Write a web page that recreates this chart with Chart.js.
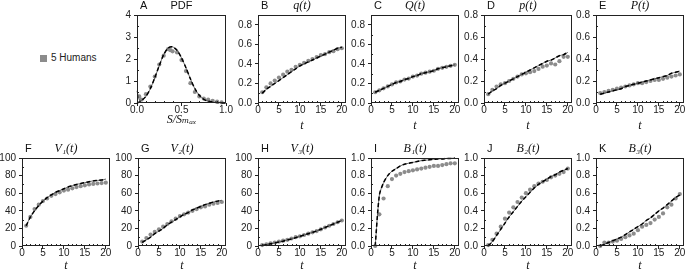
<!DOCTYPE html>
<html>
<head>
<meta charset="utf-8">
<script src="https://cdn.jsdelivr.net/npm/chart.js@4.4.1/dist/chart.umd.min.js"></script>
<style>
  body { margin: 0; width: 685px; height: 274px; overflow: hidden; background: #fff; position: relative; font-family: "Liberation Sans", Arial, sans-serif; }
  canvas { position: absolute; }
  #legend { position: absolute; left: 40px; top: 52px; font-size: 10px; color: #222; white-space: nowrap; }
  #legend .sw { display: inline-block; width: 7px; height: 7px; background: #8c8c8c; margin-right: 4px; vertical-align: -1px; }
</style>
</head>
<body>
<div id="legend"><span class="sw"></span>5 Humans</div>
<script>
// time steps shared by all the t-panels
const tSteps = [1, 2, 3, 4, 5, 6, 7, 8, 9, 10, 11, 12, 13, 14, 15, 16, 17, 18, 19, 20];

// tick labels
const tTicks = [0, 5, 10, 15, 20];
const pdfXTicks = [0, 0.5, 1];
const pdfYTicks = [0, 1, 2, 3, 4];
const fracTicks = [0, 0.2, 0.4, 0.6, 0.8];
const unitTicks = [0, 0.2, 0.4, 0.6, 0.8, 1.0];
const volTicks = [0, 20, 40, 60, 80, 100];

// A: PDF of S/Smax
const pdfHumanX = [0.025, 0.05, 0.1, 0.15, 0.2, 0.25, 0.3, 0.35, 0.375, 0.4, 0.45, 0.5, 0.55, 0.6, 0.65, 0.7, 0.75, 0.8, 0.85, 0.9, 0.95];
const pdfHuman  = [0.3, 0.15, 0.4, 0.75, 1.2, 1.75, 2.15, 2.45, 2.4, 2.35, 2.3, 1.95, 1.45, 0.9, 0.5, 0.3, 0.2, 0.15, 0.1, 0.06, 0.03];
const pdfModelX = [0, 0.03, 0.05, 0.1, 0.15, 0.2, 0.25, 0.3, 0.35, 0.4, 0.45, 0.5, 0.55, 0.6, 0.65, 0.7, 0.75, 0.8, 0.85, 0.9, 0.95, 1.0];
const pdfModel  = [0.55, 0.1, 0.12, 0.3, 0.65, 1.15, 1.7, 2.2, 2.5, 2.55, 2.4, 2.05, 1.6, 1.1, 0.65, 0.35, 0.17, 0.08, 0.04, 0.02, 0.01, 0.0];
const pdfModel2 = [0.0, 0.05, 0.1, 0.3, 0.65, 1.15, 1.7, 2.2, 2.5, 2.55, 2.4, 2.05, 1.6, 1.1, 0.65, 0.35, 0.17, 0.08, 0.04, 0.02, 0.01, 0.0];

// B..K: humans vs model over time
const qHuman  = [0.11, 0.16, 0.20, 0.23, 0.26, 0.29, 0.32, 0.34, 0.37, 0.39, 0.41, 0.43, 0.45, 0.47, 0.49, 0.50, 0.52, 0.53, 0.55, 0.56];
const qModel  = [0.10, 0.14, 0.17, 0.20, 0.23, 0.26, 0.29, 0.32, 0.35, 0.38, 0.40, 0.42, 0.44, 0.46, 0.48, 0.50, 0.52, 0.54, 0.56, 0.57];
const QHuman  = [0.11, 0.13, 0.15, 0.17, 0.19, 0.21, 0.22, 0.24, 0.25, 0.27, 0.28, 0.30, 0.31, 0.32, 0.33, 0.35, 0.36, 0.37, 0.38, 0.39];
const QModel  = [0.11, 0.13, 0.15, 0.17, 0.19, 0.21, 0.22, 0.24, 0.25, 0.27, 0.28, 0.30, 0.31, 0.32, 0.33, 0.35, 0.36, 0.37, 0.38, 0.39];
const pHuman  = [0.08, 0.12, 0.15, 0.17, 0.18, 0.20, 0.22, 0.24, 0.26, 0.27, 0.28, 0.29, 0.31, 0.33, 0.34, 0.36, 0.35, 0.38, 0.42, 0.42];
const pModel  = [0.08, 0.11, 0.13, 0.16, 0.18, 0.20, 0.22, 0.24, 0.26, 0.28, 0.30, 0.32, 0.34, 0.36, 0.38, 0.39, 0.41, 0.43, 0.44, 0.46];
const PHuman  = [0.09, 0.10, 0.11, 0.12, 0.13, 0.14, 0.15, 0.16, 0.17, 0.18, 0.18, 0.19, 0.20, 0.21, 0.21, 0.22, 0.23, 0.24, 0.25, 0.26];
const PModel  = [0.08, 0.09, 0.10, 0.11, 0.12, 0.13, 0.15, 0.16, 0.17, 0.18, 0.19, 0.20, 0.21, 0.22, 0.23, 0.24, 0.25, 0.27, 0.28, 0.29];
const v1Human = [23, 33, 42, 47, 51, 54, 57, 59, 61, 63, 64, 65.5, 67, 68, 69, 70, 70.5, 71, 71.5, 72];
const v1Model = [23, 33, 40, 46, 51, 55, 58, 61, 63, 65, 67, 68.5, 70, 71, 72, 73, 74, 74.5, 75, 76];
const v2Human = [5, 9, 13, 16, 19, 22, 25, 28, 31, 34, 36, 38, 40, 42, 44, 45, 47, 48, 49, 50];
const v2Model = [4, 7, 10, 14, 17, 20, 24, 27, 30, 33, 36, 38, 41, 43, 45, 47, 48.5, 50, 51, 52];
const v3Human = [1, 2, 3, 4, 5, 6, 7, 8.5, 10, 11, 12.5, 14, 15.5, 17, 19, 21, 23, 25, 27, 29];
const v3Model = [0.5, 1.5, 2.5, 3.5, 4.5, 5.5, 7, 8, 9.5, 11, 12.5, 14, 15.5, 17, 19, 21, 23, 25, 27, 29];
const b1Human = [0.0, 0.36, 0.54, 0.68, 0.76, 0.80, 0.82, 0.84, 0.85, 0.86, 0.87, 0.88, 0.89, 0.90, 0.91, 0.91, 0.92, 0.93, 0.94, 0.94];
const b1Model = [0.0, 0.58, 0.72, 0.80, 0.85, 0.88, 0.91, 0.93, 0.94, 0.95, 0.96, 0.97, 0.975, 0.98, 0.985, 0.99, 0.99, 0.995, 0.995, 1.0];
const b2Human = [0.01, 0.07, 0.14, 0.22, 0.31, 0.38, 0.44, 0.50, 0.55, 0.60, 0.64, 0.68, 0.71, 0.73, 0.75, 0.78, 0.80, 0.82, 0.84, 0.88];
const b2Model = [0.0, 0.05, 0.12, 0.19, 0.26, 0.33, 0.39, 0.45, 0.51, 0.56, 0.61, 0.66, 0.70, 0.73, 0.76, 0.79, 0.81, 0.84, 0.86, 0.88];
const b3Human = [0.0, 0.04, 0.04, 0.05, 0.06, 0.08, 0.10, 0.12, 0.14, 0.18, 0.22, 0.24, 0.26, 0.30, 0.33, 0.37, 0.44, 0.47, 0.54, 0.59];
const b3Model = [0.0, 0.02, 0.04, 0.06, 0.08, 0.10, 0.13, 0.16, 0.19, 0.22, 0.25, 0.29, 0.32, 0.36, 0.40, 0.43, 0.47, 0.51, 0.55, 0.58];

const pts = (xs, ys) => xs.map((x, i) => ({ x: x, y: ys[i] }));

// draws the box, inner minor ticks, panel letter and title
const framePlugin = {
  id: 'frame',
  afterDraw(chart, args, o) {
    const { ctx, chartArea: a, scales: { x, y } } = chart;
    ctx.save();
    ctx.strokeStyle = '#222';
    ctx.lineWidth = 1;
    ctx.strokeRect(a.left + 0.5, a.top + 0.5, a.right - a.left - 1, a.bottom - a.top - 1);
    ctx.beginPath();
    const near = (v, list) => list.some(t => Math.abs(t - v) < 1e-9);
    for (let i = 1; i * o.xMinor < x.max - 1e-9; i++) {
      const v = i * o.xMinor;
      if (near(v, o.xTicks)) continue;
      const px = Math.round(x.getPixelForValue(v)) + 0.5;
      ctx.moveTo(px, a.bottom);
      ctx.lineTo(px, a.bottom - 2);
    }
    for (let i = 1; i * o.yMinor < y.max - 1e-9; i++) {
      const v = i * o.yMinor;
      if (near(v, o.yTicks)) continue;
      const py = Math.round(y.getPixelForValue(v)) + 0.5;
      ctx.moveTo(a.left, py);
      ctx.lineTo(a.left + 2, py);
    }
    ctx.stroke();
    ctx.fillStyle = '#111';
    ctx.textBaseline = 'middle';
    ctx.textAlign = 'left';
    ctx.font = '11px "Liberation Sans", Arial, sans-serif';
    ctx.fillText(o.letter, a.left + 3, a.top - 9);
    ctx.textAlign = 'center';
    ctx.font = o.math ? 'italic 12px "Liberation Serif", "DejaVu Serif", serif' : '11px "Liberation Sans", Arial, sans-serif';
    ctx.fillText(o.title, (a.left + a.right) / 2, a.top - 9);
    ctx.restore();
  }
};

const tickFont = { family: '"Liberation Sans", Arial, sans-serif', size: 10, lineHeight: 1 };
const labelFont = { family: '"Liberation Serif", "DejaVu Serif", serif', size: 12, style: 'italic' };

function makePanel(p) {
  const padL = 30, padT = 20, padR = 10, padB = 32;
  const w = p.w || 88, h = 88;
  const cv = document.createElement('canvas');
  cv.width = padL + w + padR;
  cv.height = padT + h + padB;
  cv.style.left = (p.left - padL) + 'px';
  cv.style.top = (p.top - padT) + 'px';
  cv.style.width = cv.width + 'px';
  cv.style.height = cv.height + 'px';
  document.body.appendChild(cv);

  const axis = (ticks, min, max, fmt, pad) => ({
    type: 'linear',
    min: min,
    max: max,
    afterBuildTicks: s => { s.ticks = ticks.map(v => ({ value: v })); },
    ticks: { font: tickFont, color: '#222', padding: pad, autoSkip: false, maxRotation: 0, callback: fmt },
    grid: { drawOnChartArea: false, drawTicks: true, tickLength: 3, color: '#222' },
    border: { display: false }
  });

  const xs = axis(p.xTicks, 0, p.xMax, p.xFmt, -1);
  xs.afterFit = s => { s.height = padB; };
  xs.title = { display: true, text: p.xLabel, font: labelFont, color: '#111', padding: { top: 0, bottom: p.xLabelPad } };
  const ys = axis(p.yTicks, 0, p.yMax, p.yFmt, 3);
  ys.afterFit = s => { s.width = padL; };

  new Chart(cv, {
    type: 'line',
    data: {
      datasets: [
        { data: pts(p.hx, p.hy), showLine: false, pointRadius: 2.1, pointBackgroundColor: '#8c8c8c', pointBorderWidth: 0, order: 2 },
        { data: pts(p.mx, p.my), borderColor: '#444', borderWidth: 0.8, pointRadius: 0, tension: 0.25, order: 1 },
        { data: pts(p.mx, p.my2 || p.my), borderColor: '#000', borderWidth: 1.5, borderDash: [4, 2.5], pointRadius: 0, tension: 0.25, order: 0 }
      ]
    },
    options: {
      responsive: false,
      animation: false,
      devicePixelRatio: 1,
      clip: false,
      layout: { padding: { top: padT, right: padR, left: 0, bottom: 0 } },
      plugins: {
        legend: { display: false },
        tooltip: { enabled: false },
        frame: { letter: p.letter, title: p.title, math: p.math, xMinor: p.xMinor, yMinor: p.yMinor, xTicks: p.xTicks, yTicks: p.yTicks }
      },
      scales: { x: xs, y: ys }
    },
    plugins: [framePlugin]
  });
}

const f1 = v => v.toFixed(1);
const f0 = v => String(v);

const timePanel = (letter, title, left, top, hy, my, yTicks, yMax, yFmt, yMinor, labelPad) => ({
  letter, title, math: true, left, top,
  hx: tSteps, hy, mx: tSteps, my,
  xTicks: tTicks, xMax: 21, xFmt: f0, xMinor: 1, xLabel: 't', xLabelPad: labelPad,
  yTicks, yMax, yFmt, yMinor
});

makePanel({
  letter: 'A', title: 'PDF', math: false, left: 137, top: 15, w: 89,
  hx: pdfHumanX, hy: pdfHuman, mx: pdfModelX, my: pdfModel, my2: pdfModel2,
  xTicks: pdfXTicks, xMax: 1, xFmt: f1, xMinor: 0.1, xLabel: 'S/Sₘₐₓ', xLabelPad: 8,
  yTicks: pdfYTicks, yMax: 4, yFmt: f0, yMinor: 0.5
});
makePanel(timePanel('B', 'q(t)', 258, 15, qHuman, qModel, fracTicks, 0.9, f1, 0.1, 2));
makePanel(timePanel('C', 'Q(t)', 371, 15, QHuman, QModel, fracTicks, 0.9, f1, 0.1, 2));
makePanel(timePanel('D', 'p(t)', 484, 15, pHuman, pModel, fracTicks, 0.8, f1, 0.1, 2));
makePanel(timePanel('E', 'P(t)', 596, 15, PHuman, PModel, fracTicks, 0.8, f1, 0.1, 2));
makePanel(timePanel('F', 'V₁(t)', 22, 158, v1Human, v1Model, volTicks, 100, f0, 10, 5));
makePanel(timePanel('G', 'V₂(t)', 138, 158, v2Human, v2Model, volTicks, 100, f0, 10, 5));
makePanel(timePanel('H', 'V₃(t)', 258, 158, v3Human, v3Model, volTicks, 100, f0, 10, 5));
makePanel(timePanel('I', 'B₁(t)', 371, 158, b1Human, b1Model, unitTicks, 1, f1, 0.1, 5));
makePanel(timePanel('J', 'B₂(t)', 484, 158, b2Human, b2Model, unitTicks, 1, f1, 0.1, 5));
makePanel(timePanel('K', 'B₃(t)', 596, 158, b3Human, b3Model, unitTicks, 1, f1, 0.1, 5));
</script>
</body>
</html>
